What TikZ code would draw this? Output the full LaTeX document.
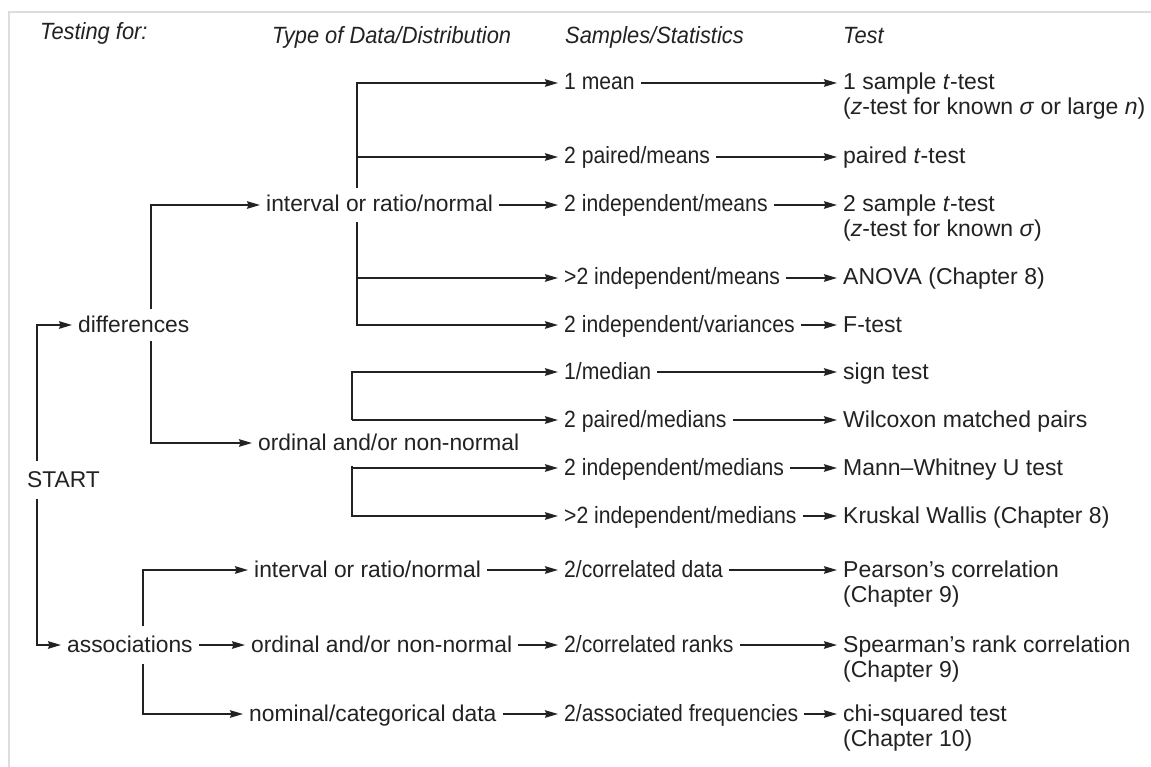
\documentclass[tikz,border=0pt]{standalone}
\usepackage{fontspec}
\setmainfont{Liberation Sans}
\newfontfamily\narrowsans[FakeStretch=0.9]{Liberation Sans}
\newfontfamily\hdrsans[FakeStretch=0.93]{Liberation Sans}
\usetikzlibrary{arrows.meta}
\definecolor{ink}{HTML}{222222}
\definecolor{framegray}{HTML}{DDDDDD}
\newcommand{\dfont}{\fontsize{22.8}{27}\selectfont}
\newcommand{\nfont}{\narrowsans\fontsize{23.5}{27}\selectfont}
\newcommand{\tfont}{\fontsize{23}{27}\selectfont}
\newcommand{\hfont}{\hdrsans\itshape\fontsize{23.5}{27}\selectfont}
\begin{document}
\begin{tikzpicture}[x=1pt,y=-1pt,
  every node/.style={text=ink},
  lbl/.style={anchor=west, inner xsep=6pt, inner ysep=0pt, text height=14pt, text depth=0pt, font=\dfont},
  smp/.style={lbl, font=\nfont},
  tst/.style={lbl, font=\tfont},
  hdr/.style={anchor=base west, inner sep=0pt, font=\hfont},
  arr/.style={draw=ink, line width=1.6pt, -{Stealth[length=13pt,width=7.5pt,inset=1.5pt]}},
  frame/.style={draw=framegray, line width=1.5pt}]
\useasboundingbox (0,0) rectangle (1151,767);
\fill[white] (0,0) rectangle (1151,767);
\draw[frame] (9,767) -- (9,12) -- (1151,12);

% headers
\node[hdr] (h1) at (40,40) {Testing for:};
\node[hdr] (h2) at (272,44) {Type of Data/Distribution};
\node[hdr] (h3) at (565,44) {Samples/Statistics};
\node[hdr] (h4) at (843,44) {Test};

% vertical line positions
\coordinate (v0) at (37,0);
\coordinate (v1) at (151,0);
\coordinate (v2) at (357,0);
\coordinate (v3) at (352,0);
\coordinate (v4) at (143,0);

% first levels
\node[lbl, inner ysep=12pt] (start) at (21,480) {START};
\node[lbl, inner ysep=9pt] (diff) at (72,325) {differences};
\node[lbl, inner ysep=12pt] (assoc) at (61,645) {associations};

\node[lbl, inner ysep=10pt] (irn1) at (260,205) {interval or ratio/normal};
\node[lbl, inner ysep=16pt] (onn1) at (252,443) {ordinal and/or non-normal};
\node[lbl] (irn2) at (248,570) {interval or ratio/normal};
\node[lbl] (onn2) at (245,645) {ordinal and/or non-normal};
\node[lbl] (ncd) at (243,714) {nominal/categorical data};

% samples / statistics
\node[smp] (s1) at (558,83) {1 mean};
\node[smp] (s2) at (558,157) {2 paired/means};
\node[smp] (s3) at (558,205) {2 independent/means};
\node[smp] (s4) at (558,278) {>2 independent/means};
\node[smp] (s5) at (558,325) {2 independent/variances};
\node[smp] (s6) at (558,372) {1/median};
\node[smp] (s7) at (558,420) {2 paired/medians};
\node[smp] (s8) at (558,468) {2 independent/medians};
\node[smp] (s9) at (558,516) {>2 independent/medians};
\node[smp] (s10) at (558,570) {2/correlated data};
\node[smp] (s11) at (558,645) {2/correlated ranks};
\node[smp] (s12) at (558,714) {2/associated frequencies};

% tests
\node[tst] (t1) at (837,83) {1 sample \textit{t}-test};
\node[tst] (t1b) at (837,108) {(\textit{z}-test for known \textit{σ} or large \textit{n})};
\node[tst] (t2) at (837,157) {paired \textit{t}-test};
\node[tst] (t3) at (837,205) {2 sample \textit{t}-test};
\node[tst] (t3b) at (837,230) {(\textit{z}-test for known \textit{σ})};
\node[tst] (t4) at (837,278) {ANOVA (Chapter 8)};
\node[tst] (t5) at (837,325) {F-test};
\node[tst] (t6) at (837,372) {sign test};
\node[tst] (t7) at (837,420) {Wilcoxon matched pairs};
\node[tst] (t8) at (837,468) {Mann–Whitney U test};
\node[tst] (t9) at (837,516) {Kruskal Wallis (Chapter 8)};
\node[tst] (t10) at (837,570) {Pearson’s correlation};
\node[tst] (t10b) at (837,595) {(Chapter 9)};
\node[tst] (t11) at (837,645) {Spearman’s rank correlation};
\node[tst] (t11b) at (837,670) {(Chapter 9)};
\node[tst] (t12) at (837,714) {chi-squared test};
\node[tst] (t12b) at (837,739) {(Chapter 10)};

% connectors: START
\draw[arr] (start.north -| v0) |- (diff.west);
\draw[arr] (start.south -| v0) |- (assoc.west);
% differences
\draw[arr] (diff.north -| v1) |- (irn1.west);
\draw[arr] (diff.south -| v1) |- (onn1.west);
% interval branch
\draw[arr] (irn1.north -| v2) |- (s1.west);
\draw[arr] (v2 |- s2.west) -- (s2.west);
\draw[arr] (irn1.east) -- (s3.west);
\draw[arr] (irn1.south -| v2) |- (s5.west);
\draw[arr] (v2 |- s4.west) -- (s4.west);
% ordinal branch
\draw[arr] (onn1.north -| v3) |- (s6.west);
\draw[arr] (v3 |- s7.west) -- (s7.west);
\draw[arr] (onn1.south -| v3) |- (s9.west);
\draw[arr] (v3 |- s8.west) -- (s8.west);
% associations
\draw[arr] (assoc.north -| v4) |- (irn2.west);
\draw[arr] (assoc.east) -- (onn2.west);
\draw[arr] (assoc.south -| v4) |- (ncd.west);
\draw[arr] (irn2.east) -- (s10.west);
\draw[arr] (onn2.east) -- (s11.west);
\draw[arr] (ncd.east) -- (s12.west);
% samples to tests
\foreach \i in {1,...,12} {\draw[arr] (s\i.east) -- (t\i.west);}
\end{tikzpicture}
\end{document}
